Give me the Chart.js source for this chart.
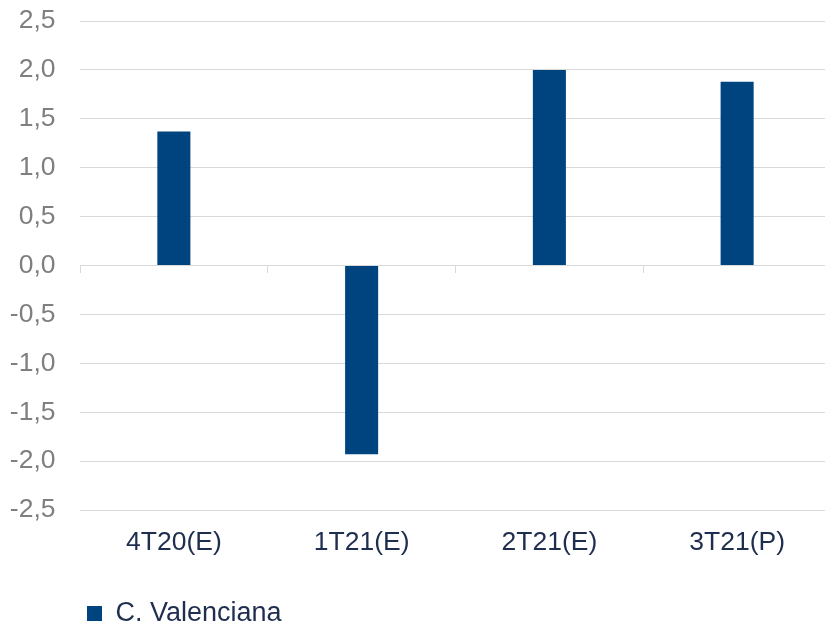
<!DOCTYPE html>
<html>
<head>
<meta charset="utf-8">
<script src="https://cdn.jsdelivr.net/npm/chart.js@4.4.1/dist/chart.umd.min.js"></script>
<style>
html, body { margin: 0; padding: 0; overflow: hidden; background: #ffffff; }
#wrap { width: 831px; height: 624px; position: relative; }
</style>
</head>
<body>
<div id="wrap"><canvas id="c"></canvas></div>
<script>
const categories = ['4T20(E)', '1T21(E)', '2T21(E)', '3T21(P)'];
const seriesName = 'C. Valenciana';
const values = [1.37, -1.93, 2.0, 1.88];
const yMin = -2.5;
const yMax = 2.5;
const yStep = 0.5;

const FONT = '"Liberation Sans", Arial, sans-serif';
const BAR = '#00447f';
const GRID = '#d9d9d9';
const DARK = '#1f2d4e';
const GRAY = '#7f7f7f';

new Chart(document.getElementById('c'), {
  type: 'bar',
  data: {
    labels: categories,
    datasets: [{
      label: seriesName,
      data: values,
      backgroundColor: BAR,
      borderWidth: 0,
      barPercentage: 0.176,
      categoryPercentage: 1.0
    }]
  },
  options: {
    responsive: true,
    maintainAspectRatio: false,
    animation: false,
    layout: { padding: { top: 21, left: 10, right: 0, bottom: -13 } },
    plugins: {
      tooltip: { enabled: false },
      legend: {
        position: 'bottom',
        align: 'start',
        fullSize: false,
        labels: {
          boxWidth: 15,
          boxHeight: 15,
          padding: 7,
          color: DARK,
          font: { family: FONT, size: 27 }
        }
      }
    },
    scales: {
      x: {
        type: 'category',
        grid: { display: false, drawTicks: false },
        border: { display: false },
        ticks: { color: DARK, padding: 17, font: { family: FONT, size: 26.5 } },
        afterFit: (s) => { s.height = 83; }
      },
      x2: {
        type: 'category',
        axis: 'x',
        labels: categories,
        position: { y: 0 },
        offset: true,
        grid: { offset: true, drawOnChartArea: false, drawTicks: true, tickLength: 7, color: GRID, lineWidth: 1 },
        border: { display: true, color: GRID, width: 1 },
        ticks: { display: false }
      },
      y: {
        min: yMin,
        max: yMax,
        grid: { color: GRID, lineWidth: 1, drawTicks: false },
        border: { display: false },
        ticks: {
          stepSize: yStep,
          padding: 24.5,
          color: GRAY,
          font: { family: FONT, size: 26.5 },
          callback: (v) => Number(v).toFixed(1).replace('.', ',')
        },
        afterFit: (s) => { s.width = 70; s.paddingTop = 0; s.paddingBottom = 0; }
      }
    }
  }
});
</script>
</body>
</html>
